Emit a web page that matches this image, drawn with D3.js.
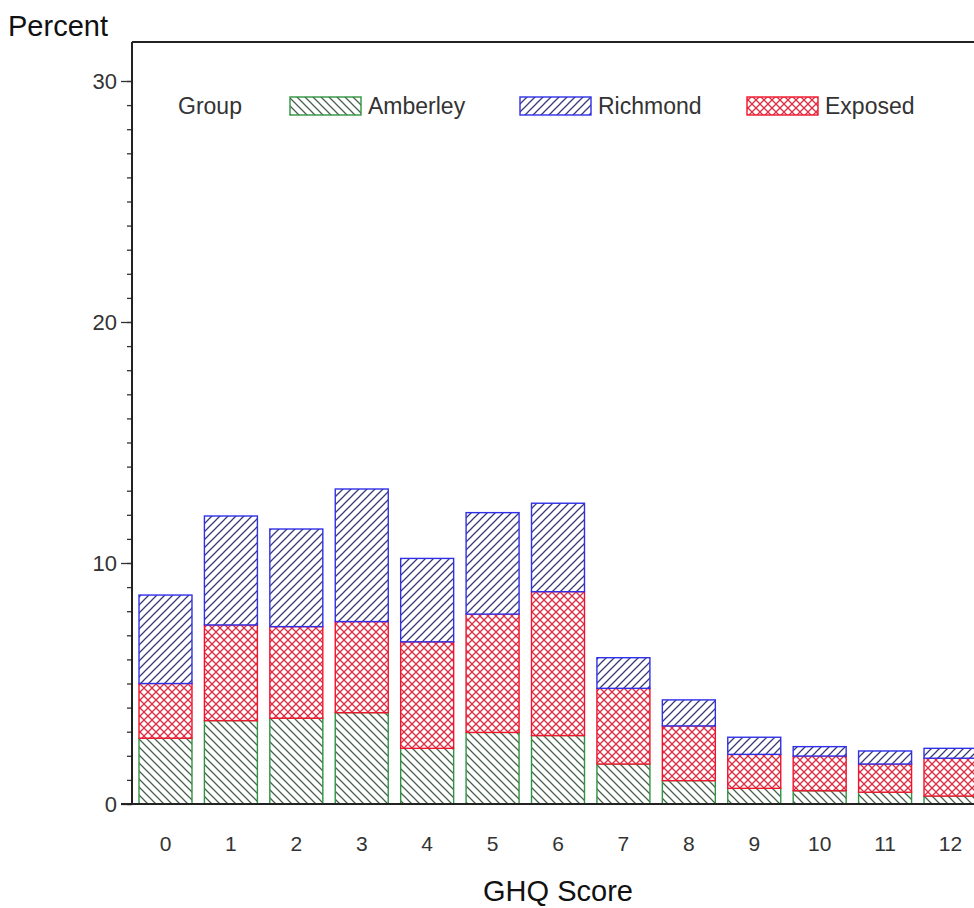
<!DOCTYPE html>
<html>
<head>
<meta charset="utf-8">
<script src="https://cdn.jsdelivr.net/npm/d3@7"></script>
<style>
  html, body { margin: 0; padding: 0; background: #fff; overflow: hidden; }
  text { font-family: "Liberation Sans", Arial, sans-serif; }
</style>
</head>
<body>
<div id="chart"></div>
<script>
// GHQ score categories
const scores = ["0", "1", "2", "3", "4", "5", "6", "7", "8", "9", "10", "11", "12"];

// percent of each group per score (stacked, bottom to top: Amberley, Exposed, Richmond)
const amberley = [2.73, 3.46, 3.56, 3.79, 2.31, 2.97, 2.84, 1.66, 0.97, 0.65, 0.55, 0.49, 0.33];
const exposed  = [2.27, 3.97, 3.80, 3.78, 4.42, 4.91, 5.97, 3.14, 2.27, 1.41, 1.44, 1.17, 1.57];
const richmond = [3.67, 4.52, 4.05, 5.50, 3.46, 4.21, 3.67, 1.27, 1.08, 0.71, 0.39, 0.54, 0.41];

const yTicks = [0, 10, 20, 30];
const legendOrder = ["Amberley", "Richmond", "Exposed"];

const width = 974, height = 908;
const margin = { top: 42, left: 132, bottom: 104 };
const plotRight = 984; // frame continues past the visible edge

const colors = { Amberley: "#2f9440", Richmond: "#3030e8", Exposed: "#f0142c" };
const hatchColors = { Amberley: "#46604c", Richmond: "#38387a", Exposed: "#e02a40" };

const rows = scores.map((s, i) => ({ score: s, Amberley: amberley[i], Exposed: exposed[i], Richmond: richmond[i] }));
const stack = d3.stack().keys(["Amberley", "Exposed", "Richmond"])(rows);

const svg = d3.select("#chart").append("svg")
    .attr("width", width)
    .attr("height", height)
    .attr("viewBox", [0, 0, width, height]);

// fill patterns
const defs = svg.append("defs");
const makeHatch = (id, color, dirs) => {
    const p = defs.append("pattern")
        .attr("id", id)
        .attr("patternUnits", "userSpaceOnUse")
        .attr("width", 8).attr("height", 8);
    p.append("rect").attr("width", 8).attr("height", 8).attr("fill", "#fff");
    dirs.forEach(d => {
        const path = d === "down"
            ? "M-2,-2 L10,10 M-2,6 L2,10 M6,-2 L10,2"
            : "M-2,10 L10,-2 M-2,2 L2,-2 M6,10 L10,6";
        p.append("path").attr("d", path)
            .attr("stroke", color).attr("stroke-width", 1.25);
    });
};
makeHatch("pat-Amberley", hatchColors.Amberley, ["down"]);
makeHatch("pat-Richmond", hatchColors.Richmond, ["up"]);
makeHatch("pat-Exposed", hatchColors.Exposed, ["down", "up"]);

// scales
const x = d3.scaleBand()
    .domain(scores)
    .range([margin.left, plotRight])
    .paddingInner(0.19)
    .paddingOuter(0.107);

const y = d3.scaleLinear()
    .domain([0, 30])
    .range([height - margin.bottom, 81]);

// bars
svg.append("g")
    .selectAll("g")
    .data(stack)
    .join("g")
    .each(function (layer) {
        d3.select(this).selectAll("rect")
            .data(layer)
            .join("rect")
            .attr("x", d => x(d.data.score))
            .attr("y", d => y(d[1]))
            .attr("width", x.bandwidth())
            .attr("height", d => y(d[0]) - y(d[1]))
            .attr("fill", `url(#pat-${layer.key})`)
            .attr("stroke", colors[layer.key])
            .attr("stroke-width", 1.4);
    });

// frame top line
svg.append("line")
    .attr("x1", margin.left).attr("x2", plotRight)
    .attr("y1", margin.top).attr("y2", margin.top)
    .attr("stroke", "#222").attr("stroke-width", 2);

// y axis with minor ticks
const yAxis = svg.append("g")
    .attr("transform", `translate(${margin.left},0)`);
yAxis.call(d3.axisLeft(y).tickValues(d3.range(0, 31, 1)).tickSize(5).tickFormat(""))
    .call(g => g.select(".domain").remove());
yAxis.append("g")
    .call(d3.axisLeft(y).tickValues(yTicks).tickSize(11).tickPadding(4))
    .call(g => g.select(".domain").remove())
    .call(g => g.selectAll("text")
        .attr("font-size", 22)
        .attr("font-family", "Liberation Sans, Arial, sans-serif")
        .attr("fill", "#333"));
yAxis.selectAll(".tick line").attr("stroke", "#333").attr("stroke-width", 1.3);
yAxis.append("line")
    .attr("y1", margin.top).attr("y2", y(0))
    .attr("stroke", "#222").attr("stroke-width", 2);

// x axis
const xAxis = svg.append("g")
    .attr("transform", `translate(0,${y(0)})`);
xAxis.call(d3.axisBottom(x).tickSize(0).tickPadding(32))
    .call(g => g.select(".domain").remove())
    .call(g => g.selectAll("text")
        .attr("font-size", 21)
        .attr("font-family", "Liberation Sans, Arial, sans-serif")
        .attr("fill", "#333"));
xAxis.append("line")
    .attr("x1", margin.left - 11).attr("x2", plotRight)
    .attr("stroke", "#222").attr("stroke-width", 2);

// axis titles
svg.append("text")
    .attr("x", 8).attr("y", 36)
    .attr("font-size", 29)
    .attr("fill", "#111")
    .text("Percent");

svg.append("text")
    .attr("x", (margin.left + plotRight) / 2).attr("y", 901)
    .attr("text-anchor", "middle")
    .attr("font-size", 29)
    .attr("fill", "#111")
    .text("GHQ Score");

// legend
const legend = svg.append("g");
legend.append("text")
    .attr("x", 178).attr("y", 114)
    .attr("font-size", 23).attr("fill", "#333")
    .text("Group");
const legendX = [290, 520, 747];
legendOrder.forEach((key, i) => {
    legend.append("rect")
        .attr("x", legendX[i]).attr("y", 97)
        .attr("width", 71).attr("height", 18)
        .attr("fill", `url(#pat-${key})`)
        .attr("stroke", colors[key]).attr("stroke-width", 1.4);
    legend.append("text")
        .attr("x", legendX[i] + 78).attr("y", 114)
        .attr("font-size", 23).attr("fill", "#333")
        .text(key);
});
</script>
</body>
</html>
